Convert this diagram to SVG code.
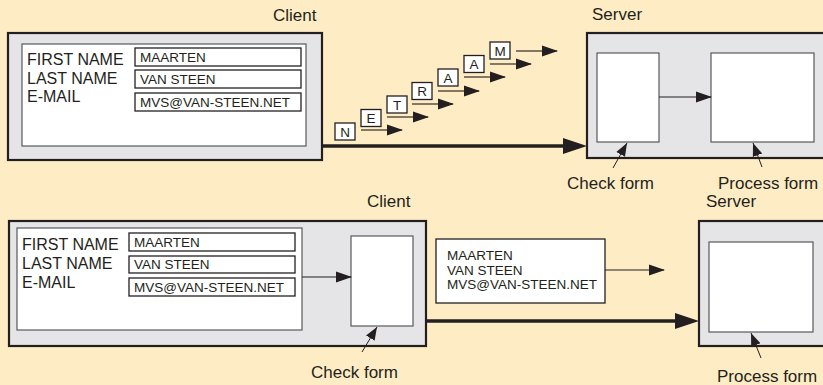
<svg xmlns="http://www.w3.org/2000/svg" width="823" height="385" viewBox="0 0 823 385">
<defs>
<style>
text{font-family:"Liberation Sans",Arial,sans-serif;fill:#231f20}
.lbl{font-size:17px}
.fl{font-size:16px}
.fv{font-size:13.5px}
.lt{font-size:13.5px;text-anchor:middle}
.outer{fill:#e5e5e7;stroke:#231f20;stroke-width:2.2}
.inner{fill:#fff;stroke:#58595b;stroke-width:1.2}
.field{fill:#fff;stroke:#231f20;stroke-width:1.3}
.thick{stroke:#231f20;stroke-width:3.5;fill:none}
.thin{stroke:#231f20;stroke-width:1.2;fill:none}
.ltr{stroke:#5a5040;stroke-width:1.5;fill:none}
.ptr{stroke:#231f20;stroke-width:1;fill:none}
</style>
<marker id="big" markerUnits="userSpaceOnUse" markerWidth="26" markerHeight="18" refX="2" refY="9" orient="auto"><path d="M0,1 L24,9 L0,17 Z" fill="#231f20"/></marker>
<marker id="mid" markerUnits="userSpaceOnUse" markerWidth="17" markerHeight="13" refX="15" refY="6.5" orient="auto"><path d="M0,1 L16,6.5 L0,12 Z" fill="#231f20"/></marker>
<marker id="sm" markerUnits="userSpaceOnUse" markerWidth="14" markerHeight="12" refX="13" refY="6" orient="auto"><path d="M0,1 L13,6 L0,11 Z" fill="#231f20"/></marker>
</defs>
<rect x="0" y="0" width="823" height="385" fill="#feedc4"/>

<g id="top-client">
<text class="lbl" x="273" y="21">Client</text>
<rect class="outer" x="8" y="33" width="314" height="127"/>
<rect class="inner" x="22" y="44" width="284" height="102"/>
<text class="fl" x="27" y="65">FIRST NAME</text>
<text class="fl" x="27" y="84">LAST NAME</text>
<text class="fl" x="27" y="102">E-MAIL</text>
<rect class="field" x="135" y="48" width="166" height="18"/>
<rect class="field" x="135" y="70" width="166" height="18"/>
<rect class="field" x="135" y="93" width="166" height="18"/>
<text class="fv" x="140" y="62">MAARTEN</text>
<text class="fv" x="140" y="84">VAN STEEN</text>
<text class="fv" x="140" y="107">MVS@VAN-STEEN.NET</text>
</g>

<g id="top-letters">
<rect class="field" x="335" y="123" width="20" height="17"/><text class="lt" x="345" y="136.5">N</text>
<rect class="field" x="361" y="109.5" width="20" height="17"/><text class="lt" x="371" y="123">E</text>
<rect class="field" x="387" y="96" width="20" height="17"/><text class="lt" x="397" y="109.5">T</text>
<rect class="field" x="412" y="82.5" width="20" height="17"/><text class="lt" x="422" y="96">R</text>
<rect class="field" x="438" y="69" width="20" height="17"/><text class="lt" x="448" y="82.5">A</text>
<rect class="field" x="464" y="55.5" width="20" height="17"/><text class="lt" x="474" y="69">A</text>
<rect class="field" x="490" y="42" width="20" height="17"/><text class="lt" x="500" y="55.5">M</text>
</g>

<g id="top-server">
<text class="lbl" x="592" y="20">Server</text>
<rect class="outer" x="587" y="33" width="240" height="125"/>
<rect class="inner" x="597" y="53" width="62" height="89"/>
<rect class="inner" x="711" y="53" width="103" height="89"/>
<text class="lbl" x="567" y="189">Check form</text>
<text class="lbl" x="718" y="189">Process form</text>
</g>

<g id="bottom-client">
<text class="lbl" x="367" y="207">Client</text>
<rect class="outer" x="9" y="221" width="417" height="125"/>
<rect class="inner" x="17" y="228" width="285" height="102"/>
<text class="fl" x="22" y="250">FIRST NAME</text>
<text class="fl" x="22" y="269">LAST NAME</text>
<text class="fl" x="22" y="288">E-MAIL</text>
<rect class="field" x="129" y="233" width="166" height="18"/>
<rect class="field" x="129" y="256" width="166" height="17"/>
<rect class="field" x="129" y="278" width="166" height="18"/>
<text class="fv" x="134" y="247">MAARTEN</text>
<text class="fv" x="134" y="269">VAN STEEN</text>
<text class="fv" x="134" y="292">MVS@VAN-STEEN.NET</text>
<rect class="inner" x="351" y="236" width="62" height="90"/>
<text class="lbl" x="311" y="378">Check form</text>
</g>

<g id="bottom-data">
<rect class="field" x="436" y="239" width="169" height="64"/>
<text class="fv" x="447" y="260">MAARTEN</text>
<text class="fv" x="447" y="275">VAN STEEN</text>
<text class="fv" x="447" y="289">MVS@VAN-STEEN.NET</text>
</g>

<g id="bottom-server">
<text class="lbl" x="706" y="207">Server</text>
<rect class="outer" x="699" y="221" width="128" height="125"/>
<rect class="inner" x="709" y="242" width="104" height="90"/>
<text class="lbl" x="717" y="382">Process form</text>
</g>

<g id="connectors">
<line class="thick" x1="322" y1="146" x2="565" y2="146" marker-end="url(#big)"/>
<line class="ltr" x1="361" y1="130" x2="402" y2="130" marker-end="url(#mid)"/>
<line class="ltr" x1="387" y1="117" x2="428" y2="117" marker-end="url(#mid)"/>
<line class="ltr" x1="412" y1="104" x2="453" y2="104" marker-end="url(#mid)"/>
<line class="ltr" x1="438" y1="91" x2="479" y2="91" marker-end="url(#mid)"/>
<line class="ltr" x1="464" y1="77" x2="505" y2="77" marker-end="url(#mid)"/>
<line class="ltr" x1="490" y1="64" x2="531" y2="64" marker-end="url(#mid)"/>
<line class="ltr" x1="516" y1="51" x2="557" y2="51" marker-end="url(#mid)"/>
<line class="thin" x1="659" y1="97" x2="711" y2="97" marker-end="url(#mid)"/>
<line class="ptr" x1="613" y1="168" x2="627" y2="143" marker-end="url(#sm)"/>
<line class="ptr" x1="762" y1="167" x2="753" y2="143" marker-end="url(#sm)"/>
<line class="thin" x1="302" y1="277" x2="351" y2="277" marker-end="url(#mid)"/>
<line class="ptr" x1="362" y1="352" x2="377" y2="327" marker-end="url(#sm)"/>
<line class="thin" x1="605" y1="270" x2="664" y2="270" marker-end="url(#mid)"/>
<line class="thick" x1="426" y1="321" x2="677" y2="321" marker-end="url(#big)"/>
<line class="ptr" x1="761" y1="358" x2="751" y2="333" marker-end="url(#sm)"/>
</g>
</svg>
